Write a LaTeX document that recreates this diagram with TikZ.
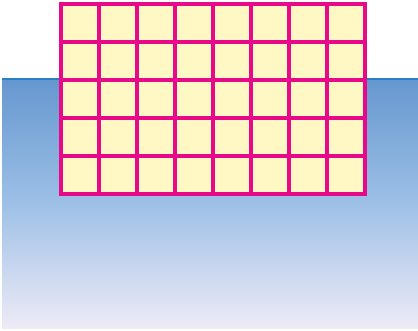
\documentclass[tikz,border=0pt]{standalone}
\definecolor{watertop}{HTML}{6597CF}
\definecolor{watermid}{HTML}{9CBFE6}
\definecolor{waterbot}{HTML}{EEEBF6}
\definecolor{waterline}{HTML}{2A80C8}
\definecolor{gridline}{HTML}{E8088A}
\definecolor{cellfill}{HTML}{FFF8C4}
\begin{document}
\begin{tikzpicture}[x=1pt,y=1pt,
  raftline/.style={draw=gridline,line width=3.2pt}]
\useasboundingbox (0,0) rectangle (418,331);
\fill[white] (0,0) rectangle (418,331);
\shade[top color=watertop,bottom color=watermid] (2,130) rectangle (418,252);
\shade[top color=watermid,bottom color=waterbot] (2,2) rectangle (418,130.5);
\draw[waterline,line width=2pt] (2,252) -- (418,252);
\fill[cellfill] (61,137) rectangle (365,327);
\begin{scope}[shift={(61,137)}]
  \draw[raftline] (0,0) grid[step=38] (304,190);
  \draw[raftline] (0,0) rectangle (304,190);
\end{scope}
\end{tikzpicture}
\end{document}
